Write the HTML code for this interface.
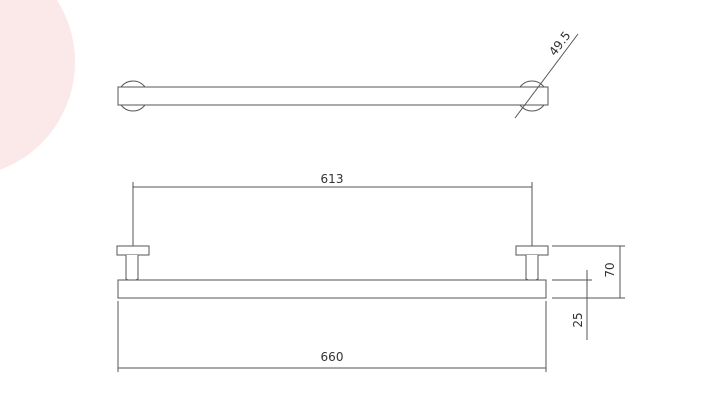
<!DOCTYPE html>
<html><head><meta charset="utf-8"><style>
html,body{margin:0;padding:0;background:#fff;}
svg{display:block;}
text{font-family:"DejaVu Sans","Liberation Sans",sans-serif;font-size:12px;fill:#333;}
</style></head><body>
<svg width="714" height="413" viewBox="0 0 714 413" xmlns="http://www.w3.org/2000/svg">
<circle cx="-40" cy="62" r="115" fill="#fbe8e9"/>
<g stroke="#555" stroke-width="1" fill="none">
<!-- top view -->
<circle cx="133" cy="96" r="15" fill="#fff"/>
<circle cx="532" cy="96" r="15" fill="#fff"/>
<rect x="118" y="87" width="430" height="18" fill="#fff"/>
<line x1="515" y1="118" x2="578" y2="34"/>
<!-- front view -->
<line x1="133" y1="182" x2="133" y2="246"/>
<line x1="532" y1="182" x2="532" y2="246"/>
<line x1="133" y1="187" x2="532" y2="187"/>
<rect x="117" y="246" width="32" height="9" fill="#fff"/>
<rect x="516" y="246" width="32" height="9" fill="#fff"/>
<path d="M126 255 V279 L132 282 L138 279 V255" fill="#fff"/>
<path d="M526 255 V279 L532 282 L538 279 V255" fill="#fff"/>
<rect x="118" y="280" width="428" height="18" fill="#fff"/>
<line x1="118" y1="301" x2="118" y2="372"/>
<line x1="546" y1="301" x2="546" y2="372"/>
<line x1="118" y1="368" x2="546" y2="368"/>
<line x1="552" y1="246" x2="625" y2="246"/>
<line x1="552" y1="298" x2="625" y2="298"/>
<line x1="620" y1="246" x2="620" y2="298"/>
<line x1="552" y1="280" x2="592" y2="280"/>
<line x1="587" y1="270" x2="587" y2="340"/>
</g>
<text x="332" y="183" text-anchor="middle">613</text>
<text x="332" y="361" text-anchor="middle">660</text>
<text transform="translate(614,270) rotate(-90)" text-anchor="middle">70</text>
<text transform="translate(582,320) rotate(-90)" text-anchor="middle">25</text>
<text transform="translate(563,46) rotate(-53)" text-anchor="middle">49.5</text>
</svg>
</body></html>
